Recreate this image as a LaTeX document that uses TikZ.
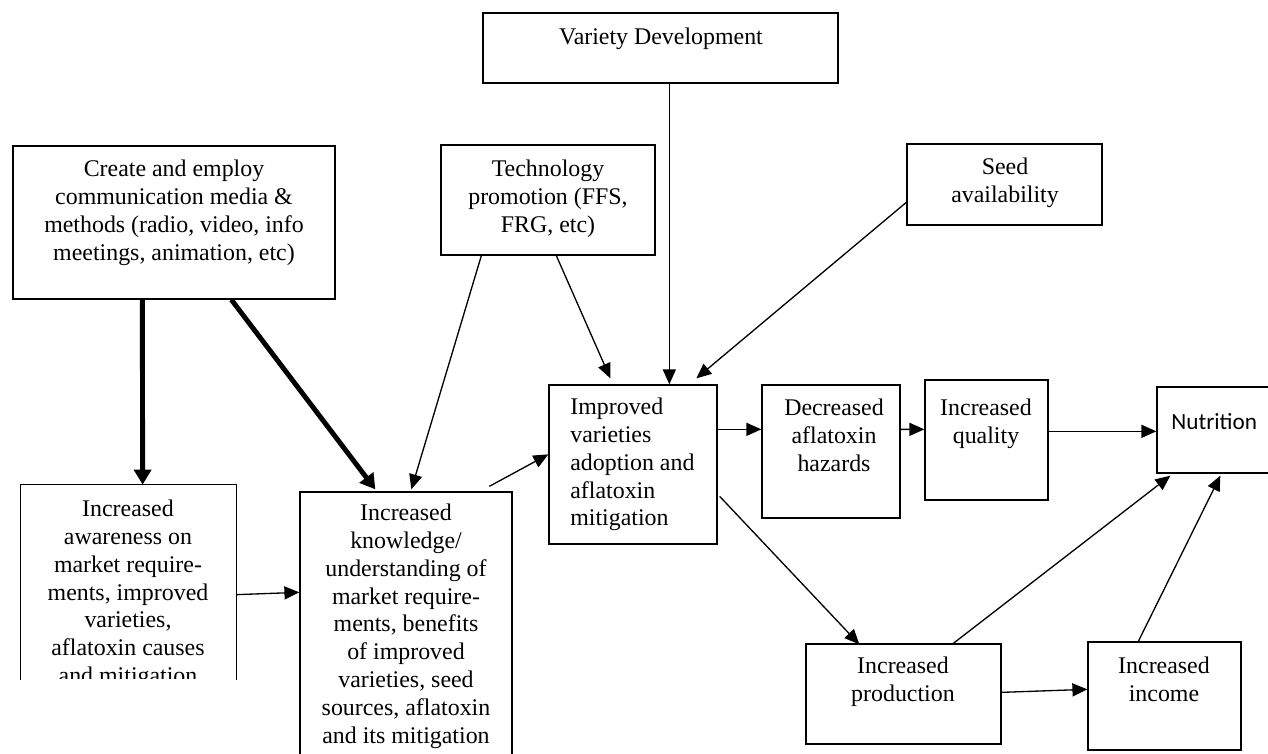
\documentclass[tikz,border=0pt]{standalone}
\usepackage{fontspec}
\setmainfont{Liberation Serif}
\newfontfamily\calibrifont{Carlito}
\usetikzlibrary{arrows.meta,fit,calc}
\begin{document}
\begin{tikzpicture}[x=0.02cm,y=-0.02cm,
  box/.style={draw, line width=0.75pt, inner sep=0pt},
  frame/.style={inner sep=0pt},
  txt/.style={font=\fontsize{13.6}{15.8}\selectfont, align=center, inner sep=0pt},
  arr/.style={line width=0.75pt, -{Triangle[length=8.5pt,width=7.4pt]}},
  boldarr/.style={line width=2.8pt, -{Triangle[length=8.5pt,width=9.6pt]}}]
\useasboundingbox (0,0) rectangle (1268,754);
\clip (0,0) rectangle (1268,754);

% boxes
\node[box, fit={(483,13)(838,83)}] (var) {};
\node[box, fit={(13,146)(335,299)}] (cre) {};
\node[box, fit={(441,145)(655,255)}] (tec) {};
\node[box, fit={(907,144)(1102,225)}] (see) {};
\node[frame, fit={(21,485)(236,680)}] (awa) {};
\draw[line width=0.75pt] (awa.south west) -- (awa.north west) -- (awa.north east) -- (awa.south east);
\node[box, fit={(300,492)(512,780)}] (kno) {};
\node[box, fit={(549,385)(717,544)}] (imp) {};
\node[box, fit={(762,385)(900,518)}] (dec) {};
\node[box, fit={(925,380)(1048,500)}] (qua) {};
\node[box, fit={(1157,387)(1280,473)}] (nut) {};
\node[box, fit={(806,644)(1001,744)}] (pro) {};
\node[box, fit={(1088,642)(1241,750)}] (inc) {};

% texts
\node[txt, anchor=north] (varT) at (661,28) {Variety Development};
\node[txt, anchor=north] (creT) at (174,160) {Create and employ\\communication media \&\\methods (radio, video, info\\meetings, animation, etc)};
\node[txt, anchor=north] (tecT) at (548,160) {Technology\\promotion (FFS,\\FRG, etc)};
\node[txt, anchor=north] (seeT) at (1005,158) {Seed\\availability};
\begin{scope}
\clip (21,485) rectangle (236,678);
\node[txt, anchor=north] (awaT) at (128,500) {Increased\\awareness on\\market require-\\ments, improved\\varieties,\\aflatoxin causes\\and mitigation};
\end{scope}
\node[txt, anchor=north] (knoT) at (406,504) {Increased\\knowledge/\\understanding of\\market require-\\ments, benefits\\of improved\\varieties, seed\\sources, aflatoxin\\and its mitigation};
\node[txt, anchor=north west, align=left] (impT) at (570,398) {Improved\\varieties\\adoption and\\aflatoxin\\mitigation};
\node[txt, anchor=north] (decT) at (834,399) {Decreased\\aflatoxin\\hazards};
\node[txt, anchor=north] (quaT) at (986,399) {Increased\\quality};
\node[font=\calibrifont\fontsize{13.2}{16}\selectfont, anchor=west, inner sep=0pt] (nutT) at (1171,422) {Nutrition};
\node[txt, anchor=north] (proT) at (903,657) {Increased\\production};
\node[txt, anchor=north] (incT) at (1164,657) {Increased\\income};

% connectors
\draw[boldarr] ($(cre.south west)+(130,0)$) -- ($(awa.north west)+(122,0)$);
\draw[boldarr] ($(cre.south west)+(219,0)$) -- ($(kno.north west)+(76,-2)$);
\draw[arr] ($(tec.south west)+(41,0)$) -- ($(kno.north west)+(112,-2)$);
\draw[arr] ($(tec.south west)+(116,0)$) -- ($(imp.north west)+(62,-6)$);
\draw[arr] ($(var.south west)+(187,0)$) -- ($(imp.north west)+(121,0)$);
\draw[arr] ($(see.north west)+(0,59)$) -- ($(imp.north west)+(148,-6)$);
\draw[arr] ($(awa.north east)+(0,110)$) -- ($(kno.north west)+(0,101)$);
\draw[arr] ($(kno.north west)+(190,-5)$) -- ($(imp.north west)+(0,70)$);
\draw[arr] ($(imp.north east)+(0,45)$) -- ($(dec.north west)+(0,45)$);
\draw[arr] ($(dec.north east)+(0,45)$) -- ($(qua.north west)+(0,50)$);
\draw[arr] ($(qua.north east)+(0,52)$) -- ($(nut.north west)+(0,45)$);
\draw[arr] ($(imp.north east)+(2,112)$) -- ($(pro.north west)+(54,1)$);
\draw[arr] ($(pro.north west)+(148,0)$) -- ($(nut.south west)+(14,2)$);
\draw[arr] ($(pro.north east)+(0,49)$) -- ($(inc.north west)+(0,48)$);
\draw[arr] ($(inc.north west)+(51,0)$) -- ($(nut.south west)+(64,2)$);
\end{tikzpicture}
\end{document}
